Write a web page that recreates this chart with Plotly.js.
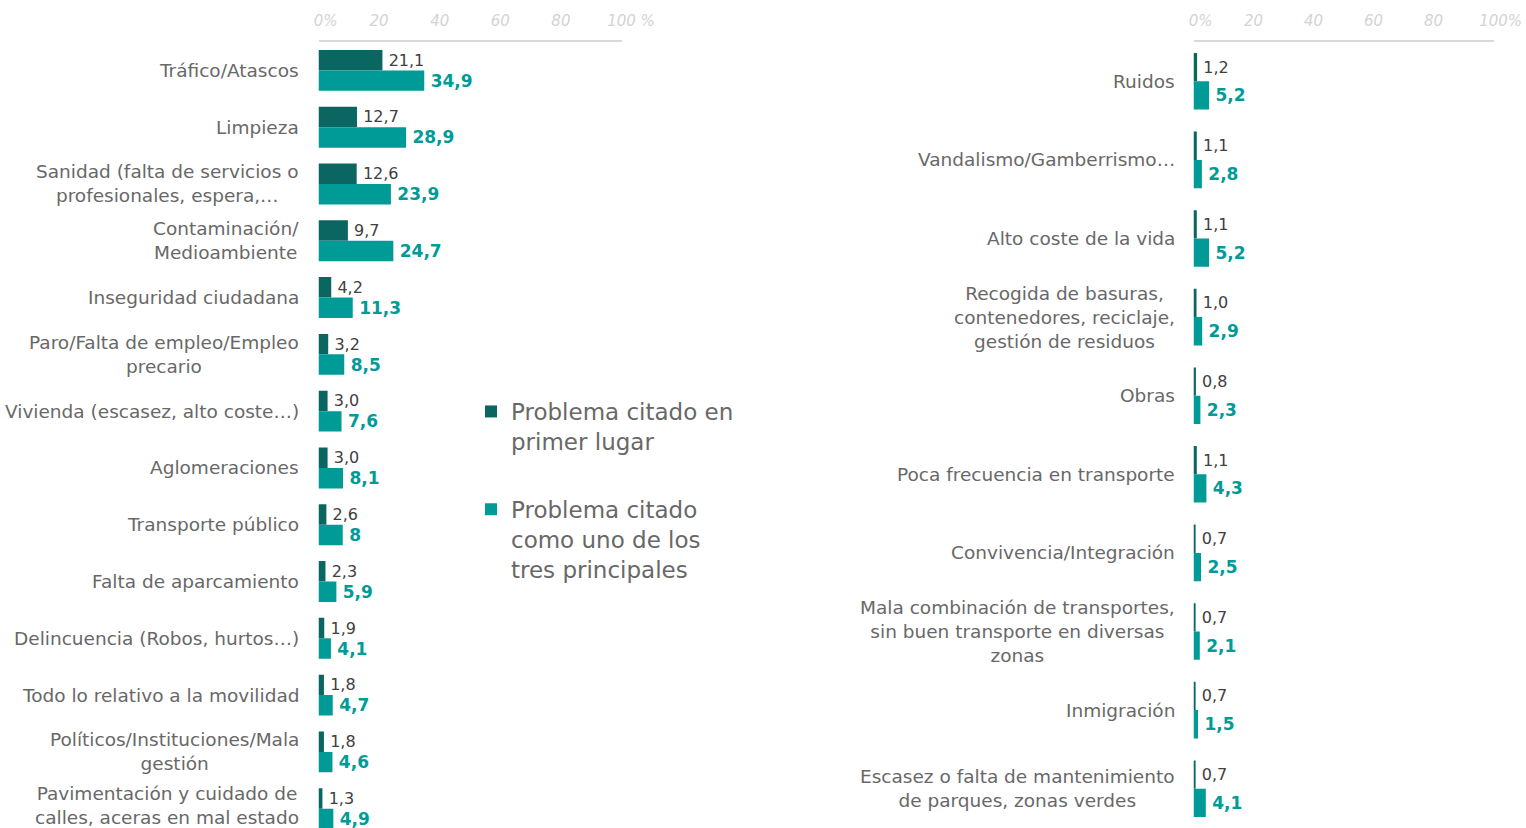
<!DOCTYPE html>
<html><head><meta charset="utf-8">
<script src="https://cdn.plot.ly/plotly-3.0.1.min.js"></script>
<style>html,body{margin:0;padding:0;background:#fff}#chart{width:1526px;height:828px}</style>
</head><body><div id="chart"></div>
<script>
const leftCategories = [
  'Tráfico/Atascos',
  'Limpieza',
  'Sanidad (falta de servicios o<br>profesionales, espera,…',
  'Contaminación/<br>Medioambiente',
  'Inseguridad ciudadana',
  'Paro/Falta de empleo/Empleo<br>precario',
  'Vivienda (escasez, alto coste…)',
  'Aglomeraciones',
  'Transporte público',
  'Falta de aparcamiento',
  'Delincuencia (Robos, hurtos…)',
  'Todo lo relativo a la movilidad',
  'Políticos/Instituciones/Mala<br>gestión',
  'Pavimentación y cuidado de<br>calles, aceras en mal estado'
];
const leftFirst = [21.1, 12.7, 12.6, 9.7, 4.2, 3.2, 3.0, 3.0, 2.6, 2.3, 1.9, 1.8, 1.8, 1.3];
const leftTop3  = [34.9, 28.9, 23.9, 24.7, 11.3, 8.5, 7.6, 8.1, 8, 5.9, 4.1, 4.7, 4.6, 4.9];

const rightCategories = [
  'Ruidos',
  'Vandalismo/Gamberrismo…',
  'Alto coste de la vida',
  'Recogida de basuras,<br>contenedores, reciclaje,<br>gestión de residuos',
  'Obras',
  'Poca frecuencia en transporte',
  'Convivencia/Integración',
  'Mala combinación de transportes,<br>sin buen transporte en diversas<br>zonas',
  'Inmigración',
  'Escasez o falta de mantenimiento<br>de parques, zonas verdes'
];
const rightFirst = [1.2, 1.1, 1.1, 1.0, 0.8, 1.1, 0.7, 0.7, 0.7, 0.7];
const rightTop3  = [5.2, 2.8, 5.2, 2.9, 2.3, 4.3, 2.5, 2.1, 1.5, 4.1];

const tickValues = [0, 20, 40, 60, 80, 100];
const leftTickLabels  = ['0%', '20', '40', '60', '80', '100 %'];
const rightTickLabels = ['0%', '20', '40', '60', '80', '100%'];
const legendNames = ['Problema citado en<br>primer lugar', 'Problema citado<br>como uno de los<br>tres principales'];

const W = 1526, H = 828;
const FONT = 'DejaVu Sans';
const DARK = '#0b6662', TEAL = '#009b97';
const LABEL = '#686868';
const GAP = '\u2009';
const fmt1 = v => GAP + v.toFixed(1).replace('.', ',');
const fmtRaw = v => GAP + String(v).replace('.', ',');
// keep the number centred on its tick, letting the % sign hang to the right
const NB = '\u00a0';
const padTick = t => {
  const m = t.match(/(\s?%)$/);
  if (!m) return t;
  const n = m[1].length === 2 ? 4 : 3;
  return NB.repeat(n) + t.replace(' ', NB);
};

function barTrace(vals, cats, color, fmt, tf, xa, ya, name, show, grp) {
  return {
    type: 'bar', orientation: 'h', x: vals, y: cats, xaxis: xa, yaxis: ya,
    name: name, showlegend: show, legendgroup: grp,
    marker: {color: color, line: {width: 0}},
    text: vals.map(fmt), textposition: 'outside', textfont: tf,
    constraintext: 'none', cliponaxis: false, hoverinfo: 'skip'
  };
}
const darkFont = {family: FONT, size: 16, color: '#404040'};
const tealFont = {family: FONT, size: 17, color: TEAL, weight: 'bold'};

const data = [
  barTrace(leftFirst, leftCategories, DARK, fmt1, darkFont, 'x', 'y', legendNames[0], true, 'g1'),
  barTrace(leftTop3, leftCategories, TEAL, fmtRaw, tealFont, 'x', 'y', legendNames[1], true, 'g2'),
  barTrace(rightFirst, rightCategories, DARK, fmt1, darkFont, 'x2', 'y2', legendNames[0], false, 'g1'),
  barTrace(rightTop3, rightCategories, TEAL, fmtRaw, tealFont, 'x2', 'y2', legendNames[1], false, 'g2')
];

const yTop = 1 - 42 / H;
function xAxis(dom, labels, anchor) {
  return {
    domain: dom, range: [0, 100], side: 'top', anchor: anchor,
    tickmode: 'array', tickvals: tickValues, ticktext: labels.map(padTick),
    tickfont: {family: FONT, size: 15, color: '#d3d3d3', style: 'italic'},
    showline: true, linecolor: '#d9d9d9', linewidth: 2,
    showgrid: false, zeroline: false, ticks: '', ticklabelstandoff: 8, fixedrange: true
  };
}
function yAxis(cats, range, anchor) {
  return {
    domain: [0, yTop], type: 'category', categoryorder: 'array', categoryarray: cats,
    range: range, anchor: anchor, showticklabels: false, showgrid: false,
    zeroline: false, showline: false, ticks: '', fixedrange: true
  };
}

const labelFont = {family: FONT, size: 18.5, color: LABEL};
const annotations = [];
leftCategories.forEach((c, i) => annotations.push({
  xref: 'paper', yref: 'y', x: 301 / W, y: c, xanchor: 'right', yanchor: 'middle',
  align: 'center', text: c, showarrow: false, font: labelFont,
  yshift: i === leftCategories.length - 1 ? 3 : 0
}));
rightCategories.forEach(c => annotations.push({
  xref: 'paper', yref: 'y2', x: 1177 / W, y: c, xanchor: 'right', yanchor: 'middle',
  align: 'center', text: c, showarrow: false, font: labelFont
}));

const layout = {
  width: W, height: H, margin: {l: 0, r: 0, t: 0, b: 0},
  paper_bgcolor: '#fff', plot_bgcolor: '#fff',
  barmode: 'group', bargap: 0.28, bargroupgap: 0,
  xaxis: xAxis([318.5 / W, 621.5 / W], leftTickLabels, 'y'),
  yaxis: yAxis(leftCategories, [13.34, -0.5], 'x'),
  xaxis2: xAxis([1193.5 / W, 1493.5 / W], rightTickLabels, 'y2'),
  yaxis2: yAxis(rightCategories, [9.5, -0.5], 'x2'),
  showlegend: true,
  legend: {
    x: 471 / W, y: 1 - 390 / H, xanchor: 'left', yanchor: 'top',
    valign: 'top', traceorder: 'grouped', tracegroupgap: 35,
    font: {family: FONT, size: 23, color: LABEL}, bgcolor: 'rgba(0,0,0,0)'
  },
  annotations: annotations,
  font: {family: FONT}
};

Plotly.newPlot('chart', data, layout, {displayModeBar: false, staticPlot: true});
</script>
</body></html>
